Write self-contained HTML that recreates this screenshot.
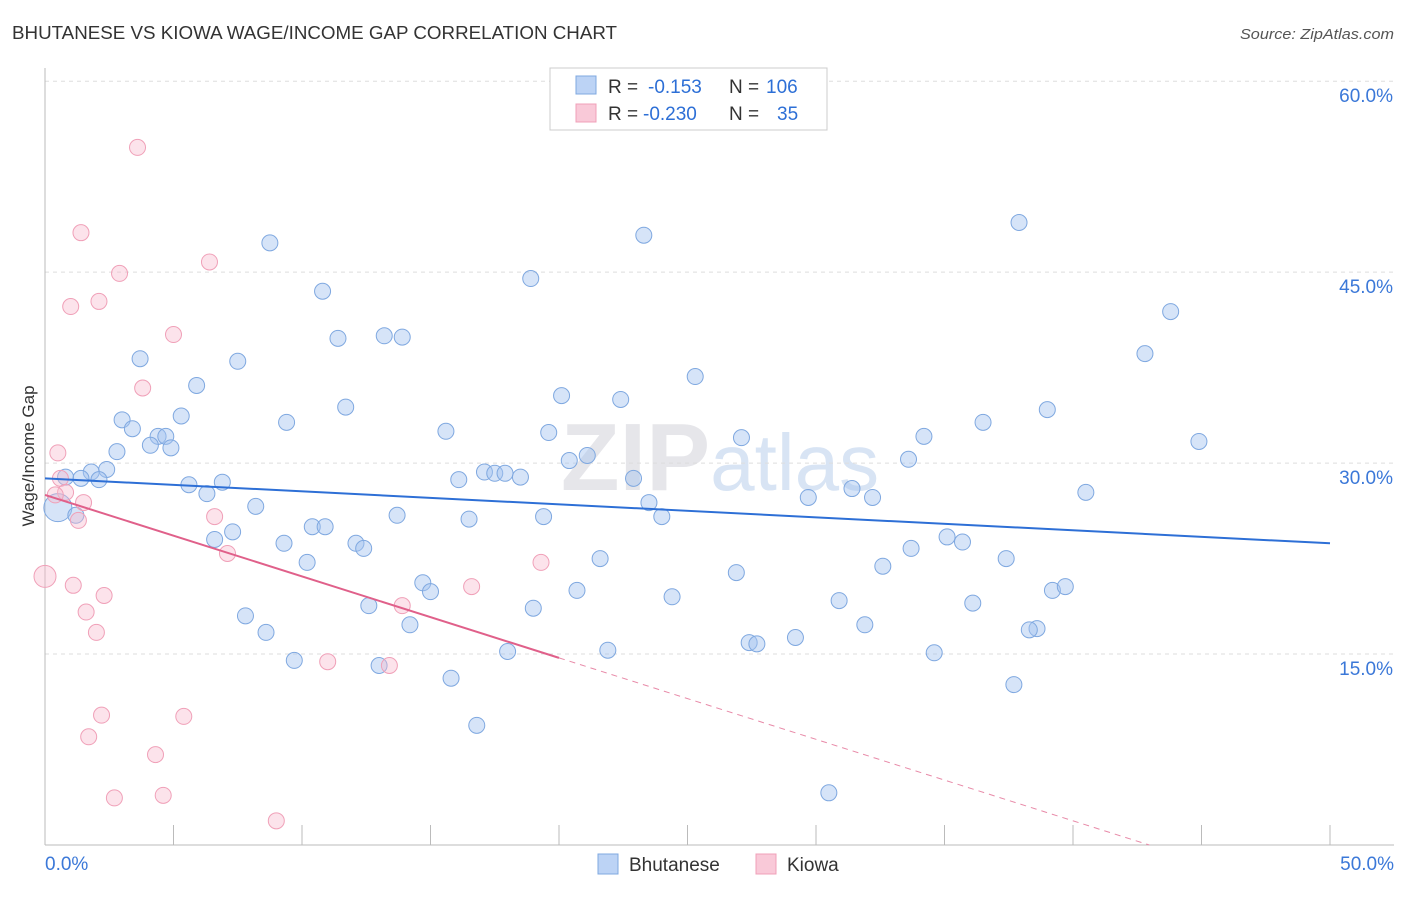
<!DOCTYPE html>
<html><head><meta charset="utf-8"><style>
body{margin:0;background:#fff;font-family:"Liberation Sans",sans-serif;}
svg text{font-family:"Liberation Sans",sans-serif;}
</style></head><body>
<svg id="c" width="1406" height="892" xmlns="http://www.w3.org/2000/svg">
<text x="12" y="39" font-size="18" fill="#333" textLength="605" lengthAdjust="spacingAndGlyphs">BHUTANESE VS KIOWA WAGE/INCOME GAP CORRELATION CHART</text>
<text x="1240" y="39" font-size="15" fill="#555" textLength="154" lengthAdjust="spacingAndGlyphs" font-style="italic">Source: ZipAtlas.com</text>
<text x="720" y="490" font-size="96" fill="#e6e6ea" text-anchor="middle" font-family="Liberation Serif" font-weight="bold">ZIP<tspan fill="#d8e4f4" font-family="Liberation Sans" font-weight="normal" font-size="80">atlas</tspan></text>
<g id="grid"></g><g id="axes"></g><g id="pts"></g><g id="lines"></g>
<text transform="translate(34,456) rotate(-90)" font-size="17" fill="#333" text-anchor="middle">Wage/Income Gap</text>
<g>
<rect x="550" y="68" width="277" height="62" fill="#fff" stroke="#ccc"/>
<rect x="576" y="76" width="20" height="18" fill="#bcd3f5" stroke="#7fa8e0"/>
<text x="608" y="93" font-size="19" fill="#333">R =</text>
<text x="648" y="93" font-size="19" fill="#2d6fd6">-0.153</text>
<text x="729" y="93" font-size="19" fill="#333">N =</text>
<text x="766" y="93" font-size="19" fill="#2d6fd6">106</text>
<rect x="576" y="104" width="20" height="18" fill="#f9c9d8" stroke="#f0a0b8"/>
<text x="608" y="120" font-size="19" fill="#333">R =</text>
<text x="643" y="120" font-size="19" fill="#2d6fd6">-0.230</text>
<text x="729" y="120" font-size="19" fill="#333">N =</text>
<text x="777" y="120" font-size="19" fill="#2d6fd6">35</text>
</g>
<g>
<rect x="598" y="854" width="20" height="20" fill="#bcd3f5" stroke="#7fa8e0"/>
<text x="629" y="871" font-size="19" fill="#333">Bhutanese</text>
<rect x="756" y="854" width="20" height="20" fill="#f9c9d8" stroke="#f0a0b8"/>
<text x="787" y="871" font-size="19" fill="#333">Kiowa</text>
</g>
</svg>
<script>
const yTicks=[15,30,45,60];
const xTickLabels=["0.0%","50.0%"];
const blueX=[8.75,10.8,18.9,23.3,37.9,43.8,42.8,11.4,13.2,13.9,3.7,7.5,25.3,5.9,20.1,22.4,11.7,39.0,3.0,5.3,9.4,36.5,3.4,15.6,19.6,4.4,4.7,27.1,34.2,44.9,4.1,4.9,2.8,33.6,21.1,20.4,2.4,1.8,0.8,1.4,2.1,17.1,17.5,17.9,16.1,18.5,22.9,5.6,6.9,6.3,31.4,32.2,29.7,40.5,23.5,8.2,0.5,1.2,13.7,16.5,19.4,24.0,10.4,10.9,7.3,6.6,9.3,12.1,12.4,35.1,35.7,33.7,10.2,21.6,37.4,32.6,26.9,14.7,15.0,20.7,39.2,39.7,24.4,30.9,36.1,12.6,19.0,7.8,14.2,31.9,8.6,38.6,38.3,29.2,27.4,27.7,21.9,18.0,34.6,9.7,13.0,15.8,37.7,16.8,30.5];
const blueY=[47.3,43.5,44.5,47.9,48.9,41.9,38.6,39.8,40.0,39.9,38.2,38.0,36.8,36.1,35.3,35.0,34.4,34.2,33.4,33.7,33.2,33.2,32.7,32.5,32.4,32.1,32.1,32.0,32.1,31.7,31.4,31.2,30.9,30.3,30.6,30.2,29.5,29.3,28.9,28.8,28.7,29.3,29.2,29.2,28.7,28.9,28.8,28.3,28.5,27.6,28.0,27.3,27.3,27.7,26.9,26.6,26.5,25.9,25.9,25.6,25.8,25.8,25.0,25.0,24.6,24.0,23.7,23.7,23.3,24.2,23.8,23.3,22.2,22.5,22.5,21.9,21.4,20.6,19.9,20.0,20.0,20.3,19.5,19.2,19.0,18.8,18.6,18.0,17.3,17.3,16.7,17.0,16.9,16.3,15.9,15.8,15.3,15.2,15.1,14.5,14.1,13.1,12.6,9.4,4.1];
const pinkX=[3.6,1.4,6.4,2.9,2.1,1.0,5.0,3.8,0.5,0.6,0.8,0.4,1.5,6.6,1.3,7.1,19.3,0.0,1.1,16.6,2.3,1.6,13.9,2.0,11.0,13.4,2.2,5.4,1.7,4.3,2.7,4.6,9.0];
const pinkY=[54.8,48.1,45.8,44.9,42.7,42.3,40.1,35.9,30.8,28.8,27.7,27.5,26.9,25.8,25.5,22.9,22.2,21.1,20.4,20.3,19.6,18.3,18.8,16.7,14.4,14.1,10.2,10.1,8.5,7.1,3.7,3.9,1.9];
const blueFit=[28.8,23.7];
const pinkFit=[27.5,-0.64];
const NS="http://www.w3.org/2000/svg";
const X=v=>45+v*25.7, Y=v=>845-v*12.73;
function mk(p,t,a){const e=document.createElementNS(NS,t);for(const k in a)e.setAttribute(k,a[k]);p.appendChild(e);return e;}
const g=document.getElementById('grid'),ax=document.getElementById('axes'),pts=document.getElementById('pts'),ln=document.getElementById('lines');
yTicks.forEach(t=>{const l=mk(g,'line',{x1:45,x2:1394,y1:Y(t),y2:Y(t),stroke:'#ddd','stroke-dasharray':'4,4'});


const tx=mk(ax,'text',{x:1393,y:Y(t)+21,'font-size':19,fill:'#3b78d8','text-anchor':'end'});tx.textContent=t.toFixed(1)+'%';

});
const yl=mk(ax,'line',{x1:45,x2:45,y1:68,y2:845,stroke:'#bbb'});


const xl=mk(ax,'line',{x1:45,x2:1394,y1:845,y2:845,stroke:'#bbb'});


for(let i=0;i<=10;i++){const t=mk(ax,'line',{x1:X(i*5),x2:X(i*5),y1:825,y2:845,stroke:'#bbb'});

}
const xa=mk(ax,'text',{x:45,y:870,'font-size':19,fill:'#3b78d8'});xa.textContent=xTickLabels[0];


const xb=mk(ax,'text',{x:1394,y:870,'font-size':19,fill:'#3b78d8','text-anchor':'end'});xb.textContent=xTickLabels[1];


blueX.forEach((x,i)=>{const c=mk(pts,'circle',{cx:X(x),cy:Y(blueY[i]),r:(i==56?14:8),fill:'rgba(165,195,240,0.45)',stroke:'#7fa8e0','stroke-width':1});

});
pinkX.forEach((x,i)=>{const c=mk(pts,'circle',{cx:X(x),cy:Y(pinkY[i]),r:(i==17?11:8),fill:'rgba(248,185,205,0.4)',stroke:'#f0a0b8','stroke-width':1});

});
const bl=mk(ln,'line',{x1:X(0),y1:Y(blueFit[0]),x2:X(50),y2:Y(blueFit[1]),stroke:'#2d6fd6','stroke-width':2});


const pl=mk(ln,'line',{x1:X(0),y1:Y(pinkFit[0]),x2:X(20),y2:Y(pinkFit[0]+pinkFit[1]*20),stroke:'#e0608a','stroke-width':2});


const xe=-pinkFit[0]/pinkFit[1];
const pd=mk(ln,'line',{x1:X(20),y1:Y(pinkFit[0]+pinkFit[1]*20),x2:X(xe),y2:Y(0),stroke:'#e88aa8','stroke-width':1,'stroke-dasharray':'6,5'});


</script>
</body></html>
